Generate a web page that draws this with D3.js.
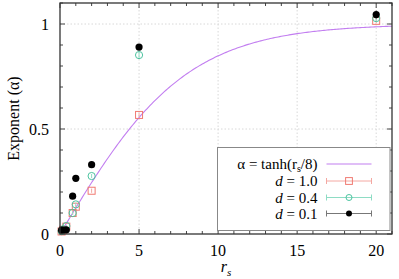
<!DOCTYPE html>
<html>
<head>
<meta charset="utf-8">
<script src="https://cdn.jsdelivr.net/npm/d3@7"></script>
<style>
  body { margin: 0; background: #fff; }
  svg { display: block; }
  text { font-family: "Liberation Serif", "DejaVu Serif", serif; }
</style>
</head>
<body>
<div id="chart"></div>
<script>
// data
const rsValues = [0.1, 0.2, 0.4, 0.8, 1, 2, 5, 20]
const alphaD10 = [0.012, 0.02, 0.035, 0.10, 0.13, 0.206, 0.567, 1.015]
const alphaD04 = [0.014, 0.022, 0.038, 0.10, 0.141, 0.276, 0.852, 1.028]
const alphaD01 = [0.018, 0.019, 0.02, 0.18, 0.265, 0.33, 0.89, 1.045]
const errD10 = [0.004, 0.004, 0.005, 0.008, 0.008, 0.01, 0.01, 0.012]
const errD04 = [0.004, 0.004, 0.005, 0.008, 0.008, 0.01, 0.015, 0.015]
const errD01 = [0.004, 0.004, 0.005, 0.008, 0.008, 0.015, 0.01, 0.02]
const xTicks = [0, 5, 10, 15, 20]
const yTicks = [0, 0.5, 1]
const yTickLabels = ["0", "0.5", "1"]

const W = 399, H = 279
const margin = {top: 3, right: 7, bottom: 45, left: 60}
const width = W - margin.left - margin.right
const height = H - margin.top - margin.bottom

const svg = d3.select("#chart").append("svg")
    .attr("width", W).attr("height", H)

const g = svg.append("g")
    .attr("transform", "translate(" + margin.left + "," + margin.top + ")")

const x = d3.scaleLinear().domain([0, 21]).range([0, width])
const y = d3.scaleLinear().domain([0, 1.1]).range([height, 0])

// grid
g.append("g").selectAll("line").data(xTicks.slice(1)).enter().append("line")
    .attr("x1", d => x(d)).attr("x2", d => x(d))
    .attr("y1", 0).attr("y2", height)
    .attr("stroke", "#d8d8d8").attr("stroke-dasharray", "1.5,2")
g.append("g").selectAll("line").data(yTicks.slice(1)).enter().append("line")
    .attr("x1", 0).attr("x2", width)
    .attr("y1", d => y(d)).attr("y2", d => y(d))
    .attr("stroke", "#d8d8d8").attr("stroke-dasharray", "1.5,2")

// ticks (inward, mirrored on top and right)
const xMinor = d3.range(0, 21.01, 1)
const yMinor = d3.range(0, 1.101, 0.1)
const tickColor = "#444"
g.append("g").selectAll("line").data(xMinor).enter().append("line")
    .attr("x1", d => x(d)).attr("x2", d => x(d))
    .attr("y1", height).attr("y2", d => height - (d % 5 === 0 ? 5 : 3))
    .attr("stroke", tickColor)
g.append("g").selectAll("line").data(xMinor).enter().append("line")
    .attr("x1", d => x(d)).attr("x2", d => x(d))
    .attr("y1", 0).attr("y2", d => (d % 5 === 0 ? 5 : 3))
    .attr("stroke", tickColor)
g.append("g").selectAll("line").data(yMinor).enter().append("line")
    .attr("x1", 0).attr("x2", (d, i) => (i % 5 === 0 ? 5 : 3))
    .attr("y1", d => y(d)).attr("y2", d => y(d))
    .attr("stroke", tickColor)
g.append("g").selectAll("line").data(yMinor).enter().append("line")
    .attr("x1", width).attr("x2", (d, i) => width - (i % 5 === 0 ? 5 : 3))
    .attr("y1", d => y(d)).attr("y2", d => y(d))
    .attr("stroke", tickColor)

// tick labels
g.append("g").selectAll("text").data(xTicks).enter().append("text")
    .attr("x", d => x(d)).attr("y", height + 22)
    .attr("text-anchor", "middle").attr("font-size", 16)
    .text(d => d)
g.append("g").selectAll("text").data(yTicks).enter().append("text")
    .attr("x", -11).attr("y", d => y(d) + 5.5)
    .attr("text-anchor", "end").attr("font-size", 16)
    .text((d, i) => yTickLabels[i])

// axis titles
const xt = g.append("text")
    .attr("x", width / 2).attr("y", height + 38)
    .attr("text-anchor", "middle").attr("font-size", 16)
xt.append("tspan").attr("font-style", "italic").text("r")
xt.append("tspan").attr("font-style", "italic").attr("font-size", 11).attr("dy", 4).text("s")

g.append("text")
    .attr("transform", "translate(" + (-41) + "," + (height / 2) + ") rotate(-90)")
    .attr("text-anchor", "middle").attr("font-size", 16)
    .text("Exponent (α)")

// curve alpha = tanh(rs/8)
const curveX = d3.range(0, 21.01, 0.1)
const line = d3.line().x(d => x(d)).y(d => y(Math.tanh(d / 8)))
const purple = "#c27ef0"
g.append("path").datum(curveX).attr("d", line)
    .attr("fill", "none").attr("stroke", purple).attr("stroke-width", 1.1)

const series = [
    {label: "1.0", vals: alphaD10, err: errD10, color: "#f07a72", bar: "#f4a8a2", shape: "square"},
    {label: "0.4", vals: alphaD04, err: errD04, color: "#4cc4a0", bar: "#8edcc4", shape: "circle"},
    {label: "0.1", vals: alphaD01, err: errD01, color: "#000", bar: "#777", shape: "dot"}
]

function drawMarker(sel, s, size) {
    const r = size || 3.6
    if (s.shape === "square") {
        sel.append("rect").attr("x", -r + 0.1).attr("y", -r + 0.1).attr("width", 2 * r - 0.2).attr("height", 2 * r - 0.2)
            .attr("fill", "none").attr("stroke", s.color).attr("stroke-width", 1)
    } else if (s.shape === "circle") {
        sel.append("circle").attr("r", r)
            .attr("fill", "none").attr("stroke", s.color).attr("stroke-width", 1)
    } else {
        sel.append("circle").attr("r", r).attr("fill", s.color)
    }
}

series.forEach(s => {
    const pts = rsValues.map((r, i) => ({r: r, a: s.vals[i], e: s.err[i]}))
    const sg = g.append("g")
    sg.selectAll("line.err").data(pts).enter().append("line")
        .attr("x1", d => x(d.r)).attr("x2", d => x(d.r))
        .attr("y1", d => y(d.a - d.e)).attr("y2", d => y(d.a + d.e))
        .attr("stroke", s.bar)
    sg.selectAll("g.pt").data(pts).enter().append("g")
        .attr("transform", d => "translate(" + x(d.r) + "," + y(d.a) + ")")
        .each(function () { drawMarker(d3.select(this), s) })
})

// legend
const lg = svg.append("g").attr("transform", "translate(217.5,147.5)")
lg.append("rect").attr("width", 172.5).attr("height", 83)
    .attr("fill", "#fff").attr("stroke", "#888").attr("stroke-width", 1)
const rowY = [16.5, 33.5, 50, 66]
const textX = 100, l1 = 109, l2 = 154
const t0 = lg.append("text").attr("x", textX).attr("y", rowY[0] + 4.5)
    .attr("text-anchor", "end").attr("font-size", 15)
t0.append("tspan").text("α = tanh(r")
t0.append("tspan").attr("font-size", 10).attr("dy", 3).text("s")
t0.append("tspan").attr("dy", -3).text("/8)")
lg.append("line").attr("x1", l1).attr("x2", l2).attr("y1", rowY[0]).attr("y2", rowY[0])
    .attr("stroke", purple).attr("stroke-width", 1.1)

series.forEach((s, i) => {
    const yy = rowY[i + 1]
    const t = lg.append("text").attr("x", textX).attr("y", yy + 5)
        .attr("text-anchor", "end").attr("font-size", 15)
    t.append("tspan").attr("font-style", "italic").text("d")
    t.append("tspan").text(" = " + s.label)
    lg.append("line").attr("x1", l1).attr("x2", l2).attr("y1", yy).attr("y2", yy).attr("stroke", s.bar)
    lg.append("line").attr("x1", l1).attr("x2", l1).attr("y1", yy - 3).attr("y2", yy + 3).attr("stroke", s.bar)
    lg.append("line").attr("x1", l2).attr("x2", l2).attr("y1", yy - 3).attr("y2", yy + 3).attr("stroke", s.bar)
    const m = lg.append("g").attr("transform", "translate(" + ((l1 + l2) / 2) + "," + yy + ")")
    drawMarker(m, s, s.shape === "square" ? 3.5 : 3)
})

// frame
g.append("rect").attr("width", width).attr("height", height)
    .attr("fill", "none").attr("stroke", "#333").attr("stroke-width", 1.3)
</script>
</body>
</html>
